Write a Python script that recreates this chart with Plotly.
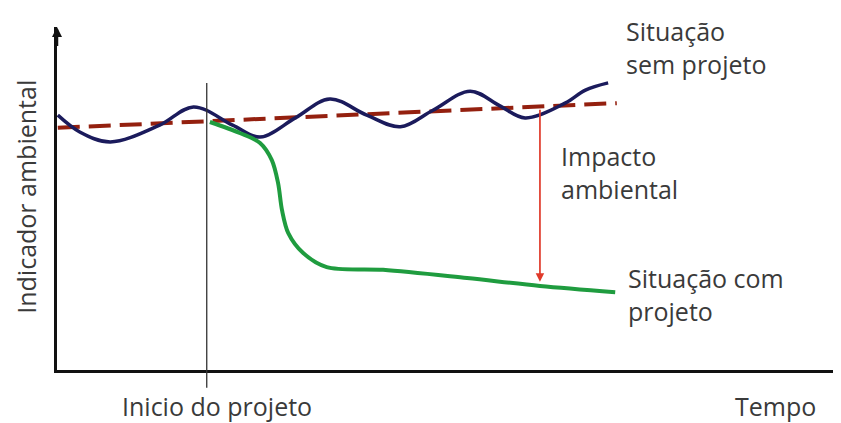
import numpy as np
import plotly.graph_objects as go

# ---- data (time 0-100, indicator 0-100) ----
sem_t = [0.1, 2.9, 6.8, 13.1, 17.4, 22.4, 25.9, 30.4, 34.8, 39.5, 43.8, 48.0, 52.7, 56.5, 59.7, 64.8, 67.4, 70.3]
sem_v = [74.3, 69.4, 66.5, 71.4, 76.7, 71.4, 67.9, 73.5, 79.0, 74.3, 70.9, 75.8, 81.3, 77.0, 73.5, 77.8, 81.6, 83.7]

trend_t = [0.1, 71.4]
trend_v = [70.6, 77.8]

com_t = [19.5, 23.3, 25.9, 27.4, 28.2, 28.7, 29.5, 31.4, 34.4, 41.6, 52.3, 61.6, 71.2]
com_v = [72.3, 69.1, 66.2, 61.2, 54.5, 46.6, 39.9, 34.1, 30.0, 29.2, 26.8, 24.5, 22.7]

inicio_t = 19.1
impacto_t = 61.6

labels = {
    "sem": "Situação<br>sem projeto",
    "impacto": "Impacto<br>ambiental",
    "com": "Situação com<br>projeto",
    "inicio": "Inicio do projeto",
    "tempo": "Tempo",
    "yaxis": "Indicador ambiental",
}

FONT = "Open Sans"
TXT = "#3a3a3a"
FS = 25

fig = go.Figure()
fig.add_trace(go.Scatter(x=trend_t, y=trend_v, mode="lines",
                         line=dict(color="#94200f", width=4, dash="22px,9px"),
                         hoverinfo="skip"))
fig.add_trace(go.Scatter(x=sem_t, y=sem_v, mode="lines",
                         line=dict(color="#1b1b5c", width=3.5, shape="spline", smoothing=1.0),
                         hoverinfo="skip"))
fig.add_trace(go.Scatter(x=com_t, y=com_v, mode="lines",
                         line=dict(color="#1f9c3f", width=4, shape="spline", smoothing=0.9),
                         hoverinfo="skip"))

# vertical start line (extends slightly below the axis)
fig.add_shape(type="line", xref="x", yref="paper", x0=inicio_t, x1=inicio_t,
              y0=-0.052, y1=0.837, line=dict(color="#333333", width=1.3))

# impact arrow between trend and "com projeto"
top_v = float(np.interp(impacto_t, trend_t, trend_v))
bot_v = float(np.interp(impacto_t, com_t, com_v))
fig.add_annotation(x=impacto_t, y=bot_v + 1.2, ax=impacto_t, ay=top_v - 0.5,
                   xref="x", yref="y", axref="x", ayref="y", text="",
                   showarrow=True, arrowhead=2, arrowsize=1, arrowwidth=1.7,
                   arrowcolor="#e03a2a")

# y-axis arrow tip
fig.add_annotation(x=0, y=100, ax=0, ay=94, xref="x", yref="y", axref="x", ayref="y",
                   text="", showarrow=True, arrowhead=2, arrowsize=0.8,
                   arrowwidth=2.5, arrowcolor="#111111")

def label(text, x, y, xanchor="left", ref="x", **kw):
    fig.add_annotation(x=x, y=y, xref=ref, yref=("y" if ref == "x" else "paper"),
                       text=text, showarrow=False, align="left",
                       xanchor=xanchor, yanchor="middle", borderpad=0,
                       font=dict(family=FONT, size=FS, color=TXT), **kw)

label(labels["sem"], 72.4, 94.1)
label(labels["impacto"], 64.2, 57.7)
label(labels["com"], 72.7, 21.9)
label(labels["inicio"], 0.204, -0.105, xanchor="center", ref="paper")
label(labels["tempo"], 0.917, -0.105, xanchor="center", ref="paper")
label(labels["yaxis"], -0.040, 0.504, xanchor="center", ref="paper", textangle=-90)

# page body has an 8px margin: compensate so the plot lands where the reference has it
fig.update_layout(
    width=833, height=415,
    margin=dict(l=49, r=0, t=19, b=53),
    paper_bgcolor="white", plot_bgcolor="white",
    showlegend=False,
    xaxis=dict(range=[0, 100], showgrid=False, zeroline=False, showticklabels=False,
               ticks="", showline=True, linecolor="#111111", linewidth=3),
    yaxis=dict(range=[0, 100], showgrid=False, zeroline=False, showticklabels=False,
               ticks="", showline=True, linecolor="#111111", linewidth=2.5),
)

fig.write_html("out.html")
